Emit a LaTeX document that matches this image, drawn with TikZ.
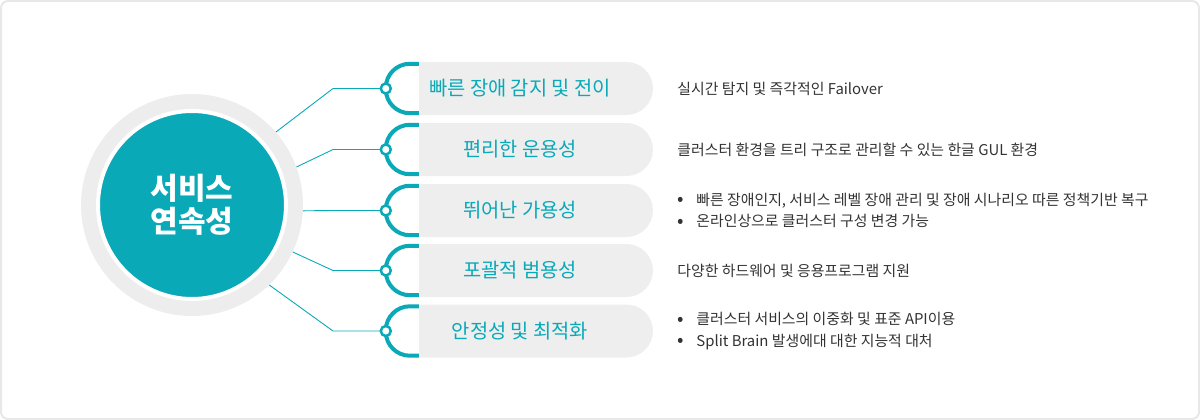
\documentclass[tikz,border=0pt]{standalone}
\usepackage{fontspec}
\setmainfont{Noto Sans CJK KR}
\usetikzlibrary{shapes.misc, positioning}
\definecolor{brand}{RGB}{10,169,184}
\definecolor{ringgray}{RGB}{237,237,237}
\definecolor{pillgray}{RGB}{238,238,238}
\definecolor{framegray}{RGB}{232,232,232}
\definecolor{bodytext}{RGB}{51,51,51}
\newcommand{\bul}{\makebox[19pt][l]{\smash{\fontsize{19pt}{19pt}\selectfont\raisebox{-0.5pt}{•}}}}

\begin{document}
\begin{tikzpicture}[
    x=1pt, y=-1pt,
    pill/.style={rounded rectangle, rounded rectangle left arc=none, fill=pillgray, minimum width=234pt, minimum height=53pt, inner sep=0pt},
    pilltext/.style={font=\fontsize{19.8pt}{24pt}\selectfont, text=brand},
    hook/.style={draw=brand, line width=4pt, rounded corners=24pt},
    dot/.style={circle, draw=brand, line width=2.5pt, fill=white, minimum size=10pt, inner sep=0pt},
    link/.style={draw=brand, line width=0.9pt},
    desc/.style={align=left, inner sep=0pt, font=\fontsize{14.9pt}{21.5pt}\selectfont, text=bodytext},
]
\useasboundingbox (0,0) rectangle (1200,420);

% Frame
\draw[framegray, line width=2pt, rounded corners=7pt] (1,1) rectangle (1199,419);

% Hub
\node[circle, fill=ringgray, minimum size=222pt] (hub) at (192,205) {};
\node[circle, fill=brand, draw=white, line width=4pt, minimum size=188pt, align=center, text=white, font=\bfseries\fontsize{30pt}{33pt}\selectfont] (core) at (hub) {서비스\\연속성};

% Pills
\node[pill] (p1) at (536,88.5) {};
\node[pill] (p2) at (536,149.5) {};
\node[pill] (p3) at (536,210.5) {};
\node[pill] (p4) at (536,270.5) {};
\node[pill] (p5) at (536,331) {};

\node[pilltext] (t1) at ([xshift=-16pt]p1.center) {빠른 장애 감지 및 전이};
\node[pilltext] (t2) at ([xshift=-16pt]p2.center) {편리한 운용성};
\node[pilltext] (t3) at ([xshift=-16pt]p3.center) {뛰어난 가용성};
\node[pilltext] (t4) at ([xshift=-16pt]p4.center) {포괄적 범용성};
\node[pilltext] (t5) at ([xshift=-16pt]p5.center) {안정성 및 최적화};

% Hooks
\draw[hook] ([yshift=-2pt]p1.north west) -| ([xshift=-33pt,yshift=2pt]p1.south west) -- ([yshift=2pt]p1.south west);
\draw[hook] ([yshift=-2pt]p2.north west) -| ([xshift=-33pt,yshift=2pt]p2.south west) -- ([yshift=2pt]p2.south west);
\draw[hook] ([yshift=-2pt]p3.north west) -| ([xshift=-33pt,yshift=2pt]p3.south west) -- ([yshift=2pt]p3.south west);
\draw[hook] ([yshift=-2pt]p4.north west) -| ([xshift=-33pt,yshift=2pt]p4.south west) -- ([yshift=2pt]p4.south west);
\draw[hook] ([yshift=-2pt]p5.north west) -| ([xshift=-33pt,yshift=2pt]p5.south west) -- ([yshift=2pt]p5.south west);

% Links
\coordinate (bend) at (333,0);
\draw[link] (hub.41) -- (p1 -| bend) -- ([xshift=-33pt]p1.west);
\draw[link] (hub.20) -- (p2 -| bend) -- ([xshift=-33pt]p2.west);
\draw[link] (hub.-3) -- (p3 -| bend) -- ([xshift=-33pt]p3.west);
\draw[link] (hub.-25) -- (p4 -| bend) -- ([xshift=-33pt]p4.west);
\draw[link] (hub.-46) -- (p5 -| bend) -- ([xshift=-33pt]p5.west);

% Dots
\node[dot] (d1) at ([xshift=-33pt]p1.west) {};
\node[dot] (d2) at ([xshift=-33pt]p2.west) {};
\node[dot] (d3) at ([xshift=-33pt]p3.west) {};
\node[dot] (d4) at ([xshift=-33pt]p4.west) {};
\node[dot] (d5) at ([xshift=-33pt]p5.west) {};

% Descriptions
\node[desc, right=24pt of p1] (s1) {실시간 탐지 및 즉각적인 Failover};
\node[desc, right=24pt of p2] (s2) {클러스터 환경을 트리 구조로 관리할 수 있는 한글 GUL 환경};
\node[desc, right=24pt of p3] (s3) {\bul 빠른 장애인지, 서비스 레벨 장애 관리 및 장애 시나리오 따른 정책기반 복구\\\bul 온라인상으로 클러스터 구성 변경 가능};
\node[desc, right=24pt of p4] (s4) {다양한 하드웨어 및 응용프로그램 지원};
\node[desc, right=24pt of p5] (s5) {\bul 클러스터 서비스의 이중화 및 표준 API이용\\\bul Split Brain 발생에대 대한 지능적 대처};

\end{tikzpicture}
\end{document}
